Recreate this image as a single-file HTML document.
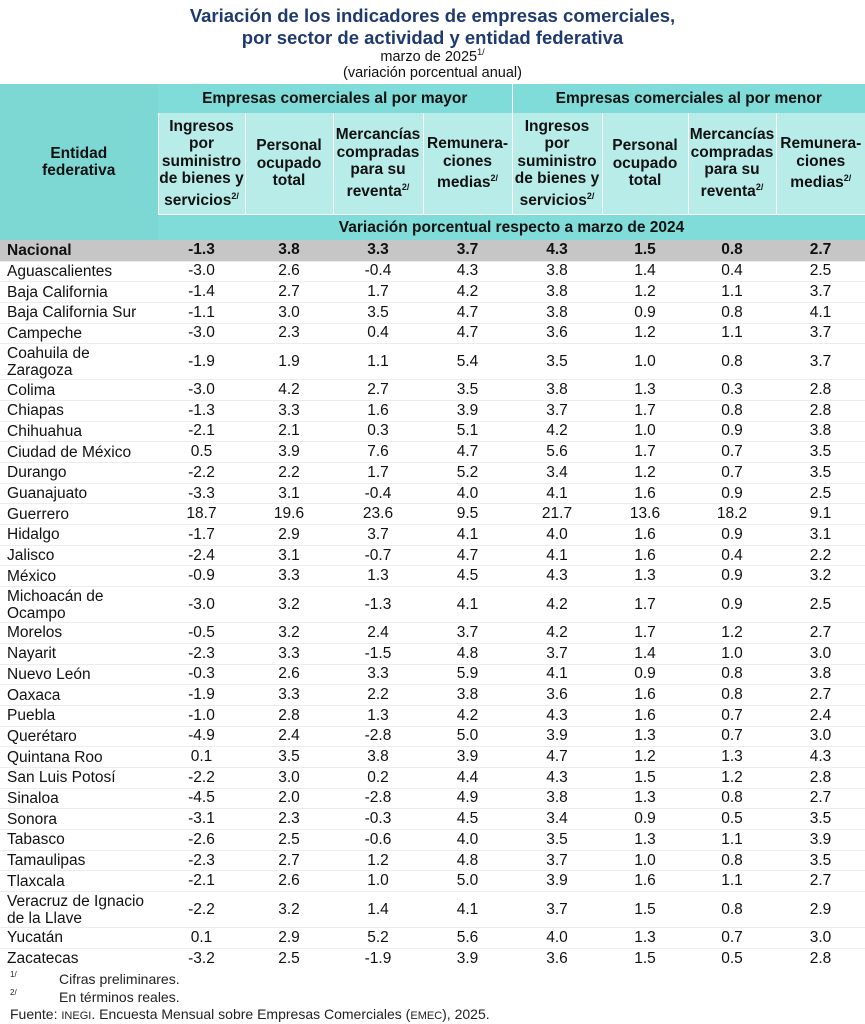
<!DOCTYPE html>
<html><head><meta charset="utf-8">
<style>
body{margin:0;width:865px;height:1024px;background:#fff;font-family:"Liberation Sans",Arial,sans-serif;overflow:hidden;position:relative}
.t1{position:absolute;left:0;width:865px;text-align:center;color:#1f3a6e;font-weight:bold;font-size:18.5px;line-height:22px}
.sub{position:absolute;left:0;width:865px;text-align:center;font-size:14.5px;color:#111}
table{position:absolute;left:0;top:84px;width:865px;border-collapse:collapse;table-layout:fixed;font-size:15.5px;color:#111}
th{font-weight:bold;text-align:center;padding:0;line-height:17.5px}
td{padding:0;text-align:center;border-top:1px solid #ececec}
td.name{text-align:left;padding-left:7px;line-height:17px;white-space:nowrap}
.h1{background:#7fdcd8;height:29px}
.h2{background:#b8ece9;height:101px;border-left:1px solid #fff}
.h3{background:#7fdcd8;height:25px}
.ent{background:#7dd8d4}
tr.nac td{background:#c6c6c6;font-weight:bold;border:none}
.fn{position:absolute;font-size:14px;color:#222}
sup{font-size:9px}
</style></head><body>
<div class="t1" style="top:5px">Variación de los indicadores de empresas comerciales,<br>por sector de actividad y entidad federativa</div>
<div class="sub" style="top:47px">marzo de 2025<sup>1/</sup></div>
<div class="sub" style="top:65px">(variación porcentual anual)</div>
<table>
<colgroup><col style="width:158px"><col style="width:87px"><col style="width:88px"><col style="width:90px"><col style="width:89px"><col style="width:90px"><col style="width:86px"><col style="width:88px"><col style="width:89px"></colgroup>
<thead>
<tr><th rowspan="3" class="ent">Entidad<br>federativa</th>
<th colspan="4" class="h1">Empresas comerciales al por mayor</th>
<th colspan="4" class="h1" style="border-left:1px solid #fff">Empresas comerciales al por menor</th></tr>
<tr>
<th class="h2">Ingresos<br>por<br>suministro<br>de bienes y<br>servicios<sup>2/</sup></th>
<th class="h2">Personal<br>ocupado<br>total</th>
<th class="h2">Mercancías<br>compradas<br>para su<br>reventa<sup>2/</sup></th>
<th class="h2">Remunera-<br>ciones<br>medias<sup>2/</sup></th>
<th class="h2">Ingresos<br>por<br>suministro<br>de bienes y<br>servicios<sup>2/</sup></th>
<th class="h2">Personal<br>ocupado<br>total</th>
<th class="h2">Mercancías<br>compradas<br>para su<br>reventa<sup>2/</sup></th>
<th class="h2">Remunera-<br>ciones<br>medias<sup>2/</sup></th>
</tr>
<tr><th colspan="8" class="h3" style="border-top:1px solid #fff">Variación porcentual respecto a marzo de 2024</th></tr>
</thead>
<tbody id="tb"></tbody>
</table>
<div class="fn" style="left:10px;top:970px;font-size:8px">1/</div>
<div class="fn" style="left:59px;top:971px">Cifras preliminares.</div>
<div class="fn" style="left:10px;top:988px;font-size:8px">2/</div>
<div class="fn" style="left:59px;top:989px">En términos reales.</div>
<div class="fn" style="left:10px;top:1006px">Fuente: <span style="font-size:11px">INEGI</span>. Encuesta Mensual sobre Empresas Comerciales (<span style="font-size:11px">EMEC</span>), 2025.</div>
<script>
const entities=["Nacional","Aguascalientes","Baja California","Baja California Sur","Campeche","Coahuila de Zaragoza","Colima","Chiapas","Chihuahua","Ciudad de México","Durango","Guanajuato","Guerrero","Hidalgo","Jalisco","México","Michoacán de Ocampo","Morelos","Nayarit","Nuevo León","Oaxaca","Puebla","Querétaro","Quintana Roo","San Luis Potosí","Sinaloa","Sonora","Tabasco","Tamaulipas","Tlaxcala","Veracruz de Ignacio de la Llave","Yucatán","Zacatecas"];
const ingresosMayor=[-1.3,-3.0,-1.4,-1.1,-3.0,-1.9,-3.0,-1.3,-2.1,0.5,-2.2,-3.3,18.7,-1.7,-2.4,-0.9,-3.0,-0.5,-2.3,-0.3,-1.9,-1.0,-4.9,0.1,-2.2,-4.5,-3.1,-2.6,-2.3,-2.1,-2.2,0.1,-3.2];
const personalMayor=[3.8,2.6,2.7,3.0,2.3,1.9,4.2,3.3,2.1,3.9,2.2,3.1,19.6,2.9,3.1,3.3,3.2,3.2,3.3,2.6,3.3,2.8,2.4,3.5,3.0,2.0,2.3,2.5,2.7,2.6,3.2,2.9,2.5];
const mercanciasMayor=[3.3,-0.4,1.7,3.5,0.4,1.1,2.7,1.6,0.3,7.6,1.7,-0.4,23.6,3.7,-0.7,1.3,-1.3,2.4,-1.5,3.3,2.2,1.3,-2.8,3.8,0.2,-2.8,-0.3,-0.6,1.2,1.0,1.4,5.2,-1.9];
const remunMayor=[3.7,4.3,4.2,4.7,4.7,5.4,3.5,3.9,5.1,4.7,5.2,4.0,9.5,4.1,4.7,4.5,4.1,3.7,4.8,5.9,3.8,4.2,5.0,3.9,4.4,4.9,4.5,4.0,4.8,5.0,4.1,5.6,3.9];
const ingresosMenor=[4.3,3.8,3.8,3.8,3.6,3.5,3.8,3.7,4.2,5.6,3.4,4.1,21.7,4.0,4.1,4.3,4.2,4.2,3.7,4.1,3.6,4.3,3.9,4.7,4.3,3.8,3.4,3.5,3.7,3.9,3.7,4.0,3.6];
const personalMenor=[1.5,1.4,1.2,0.9,1.2,1.0,1.3,1.7,1.0,1.7,1.2,1.6,13.6,1.6,1.6,1.3,1.7,1.7,1.4,0.9,1.6,1.6,1.3,1.2,1.5,1.3,0.9,1.3,1.0,1.6,1.5,1.3,1.5];
const mercanciasMenor=[0.8,0.4,1.1,0.8,1.1,0.8,0.3,0.8,0.9,0.7,0.7,0.9,18.2,0.9,0.4,0.9,0.9,1.2,1.0,0.8,0.8,0.7,0.7,1.3,1.2,0.8,0.5,1.1,0.8,1.1,0.8,0.7,0.5];
const remunMenor=[2.7,2.5,3.7,4.1,3.7,3.7,2.8,2.8,3.8,3.5,3.5,2.5,9.1,3.1,2.2,3.2,2.5,2.7,3.0,3.8,2.7,2.4,3.0,4.3,2.8,2.7,3.5,3.9,3.5,2.7,2.9,3.0,2.8];
const labels={"Coahuila de Zaragoza":"Coahuila de<br>Zaragoza","Michoacán de Ocampo":"Michoacán de<br>Ocampo","Veracruz de Ignacio de la Llave":"Veracruz de Ignacio<br>de la Llave"};
const series=[ingresosMayor,personalMayor,mercanciasMayor,remunMayor,ingresosMenor,personalMenor,mercanciasMenor,remunMenor];
const tb=document.getElementById('tb');
entities.forEach((e,i)=>{
  const tr=document.createElement('tr');
  
  
  if(i===0) tr.className='nac';
  tr.style.height=(labels[e]?36:(i===0?21:20.7))+'px';
  const n=document.createElement('td');
  n.className='name';
  
  
  n.innerHTML=labels[e]||e;
  tr.appendChild(n);
  series.forEach(s=>{
    const td=document.createElement('td');
    
    
    td.textContent=s[i].toFixed(1);
    tr.appendChild(td);
  });
  tb.appendChild(tr);
});
</script>
</body></html>
